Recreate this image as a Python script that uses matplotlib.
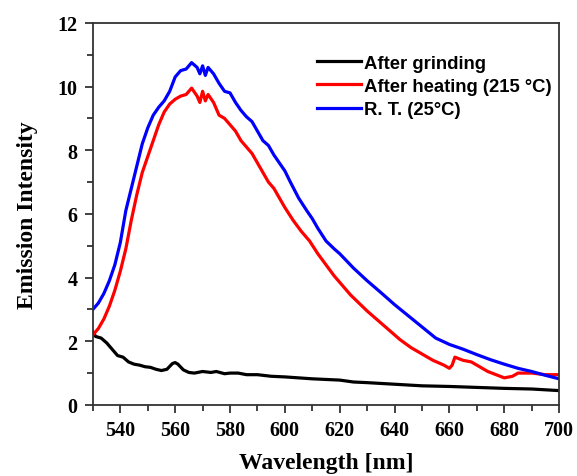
import matplotlib
matplotlib.use("Agg")
import matplotlib.pyplot as plt
from matplotlib.ticker import MultipleLocator

# emission spectra
wl_grind = [530, 531, 533, 535, 537, 539, 541, 543, 545, 547, 549, 551, 553, 555,
            557, 559, 560, 561, 563, 565, 567, 570, 573, 575, 578, 580, 583, 586,
            590, 595, 600, 605, 610, 615, 620, 625, 630, 640, 650, 660, 670, 680,
            690, 700]
i_grind = [2.3, 2.15, 2.1, 1.95, 1.75, 1.55, 1.5, 1.35, 1.28, 1.25, 1.2, 1.18, 1.12,
           1.08, 1.12, 1.3, 1.33, 1.28, 1.1, 1.02, 1.0, 1.05, 1.02, 1.05, 0.98, 1.0,
           1.0, 0.95, 0.95, 0.9, 0.88, 0.85, 0.82, 0.8, 0.78, 0.72, 0.7, 0.65, 0.6,
           0.58, 0.55, 0.52, 0.5, 0.45]

wl_heat = [530, 532, 534, 536, 538, 540, 542, 544, 546, 548, 550, 552, 554, 556,
           558, 560, 562, 564, 566, 568, 569, 570, 571, 572, 574, 576, 578, 580,
           582, 584, 586, 588, 590, 592, 594, 596, 598, 600, 603, 606, 609, 612,
           615, 618, 621, 624, 627, 630, 634, 638, 642, 646, 650, 654, 658, 660,
           661, 662, 665, 668, 671, 674, 677, 680, 683, 685, 690, 695, 700]
i_heat = [2.2, 2.4, 2.7, 3.1, 3.6, 4.2, 4.9, 5.8, 6.6, 7.3, 7.8, 8.3, 8.8, 9.2,
          9.45, 9.6, 9.7, 9.75, 9.95, 9.7, 9.5, 9.85, 9.55, 9.75, 9.5, 9.1, 9.0,
          8.8, 8.6, 8.3, 8.1, 7.9, 7.6, 7.3, 7.0, 6.8, 6.5, 6.2, 5.8, 5.45, 5.15,
          4.75, 4.4, 4.05, 3.75, 3.45, 3.2, 2.95, 2.65, 2.35, 2.05, 1.8, 1.6, 1.4,
          1.25, 1.15, 1.25, 1.5, 1.4, 1.35, 1.2, 1.05, 0.95, 0.85, 0.9, 1.0, 1.0,
          0.95, 0.95]

wl_rt = [530, 532, 534, 536, 538, 540, 542, 544, 546, 548, 550, 552, 554, 556,
         558, 560, 562, 564, 566, 568, 569, 570, 571, 572, 574, 576, 578, 580,
         582, 584, 586, 588, 590, 592, 594, 596, 598, 600, 602, 605, 608, 610,
         612, 615, 618, 620, 625, 630, 635, 640, 645, 650, 655, 660, 665, 670,
         675, 680, 685, 690, 695, 700]
i_rt = [3.0, 3.2, 3.5, 3.9, 4.4, 5.1, 6.1, 6.8, 7.5, 8.2, 8.7, 9.1, 9.35, 9.55,
        9.85, 10.3, 10.5, 10.55, 10.75, 10.6, 10.4, 10.65, 10.35, 10.6, 10.4,
        10.1, 9.85, 9.8, 9.5, 9.25, 9.05, 8.9, 8.6, 8.3, 8.15, 7.85, 7.6, 7.35,
        7.0, 6.5, 6.1, 5.85, 5.55, 5.15, 4.9, 4.75, 4.3, 3.9, 3.53, 3.15, 2.8,
        2.45, 2.1, 1.9, 1.75, 1.58, 1.42, 1.28, 1.15, 1.05, 0.93, 0.82]

labels = ["After grinding", "After heating (215 °C)", "R. T. (25°C)"]
colors = ["#000000", "#ff0000", "#0000ff"]

fig = plt.figure(figsize=(5.77, 4.77), dpi=100)
ax = fig.add_axes([0.161, 0.149, 0.808, 0.801])

for wl, inten, lab, c in zip([wl_grind, wl_heat, wl_rt], [i_grind, i_heat, i_rt],
                             labels, colors):
    ax.plot(wl, inten, color=c, lw=2.3, label=lab)

ax.set_xlim(530, 700)
ax.set_ylim(0, 12)
ax.xaxis.set_minor_locator(MultipleLocator(10))
ax.yaxis.set_major_locator(MultipleLocator(2))
ax.yaxis.set_minor_locator(MultipleLocator(1))
ax.set_xticks(range(540, 701, 20))

serif = {"family": "Liberation Serif", "weight": "bold"}
ax.tick_params(which="both", direction="out", top=False, right=False,
               width=1.3, color="#333333")
ax.tick_params(which="major", length=6, labelsize=14.5, pad=5)
ax.tick_params(which="minor", length=4)
for t in ax.get_xticklabels() + ax.get_yticklabels():
    t.set_fontfamily("Liberation Serif")
    t.set_fontweight("bold")
for s in ax.spines.values():
    s.set_linewidth(1.3)
    s.set_color("#333333")

ax.set_xlabel("Wavelength [nm]", fontsize=17, **serif)
ax.set_ylabel("Emission Intensity", fontsize=17, **serif)
ax.xaxis.set_label_coords(0.5, -0.122)
ax.yaxis.set_label_coords(-0.118, 0.5)

ax.legend(loc="upper left", frameon=False, bbox_to_anchor=(0.481, 0.917),
          prop={"family": "Liberation Sans", "weight": "bold", "size": 13.3},
          handlelength=2.4, handletextpad=0.15, labelspacing=0.34,
          borderpad=0, borderaxespad=0)

fig.savefig("out.png", dpi=100)
